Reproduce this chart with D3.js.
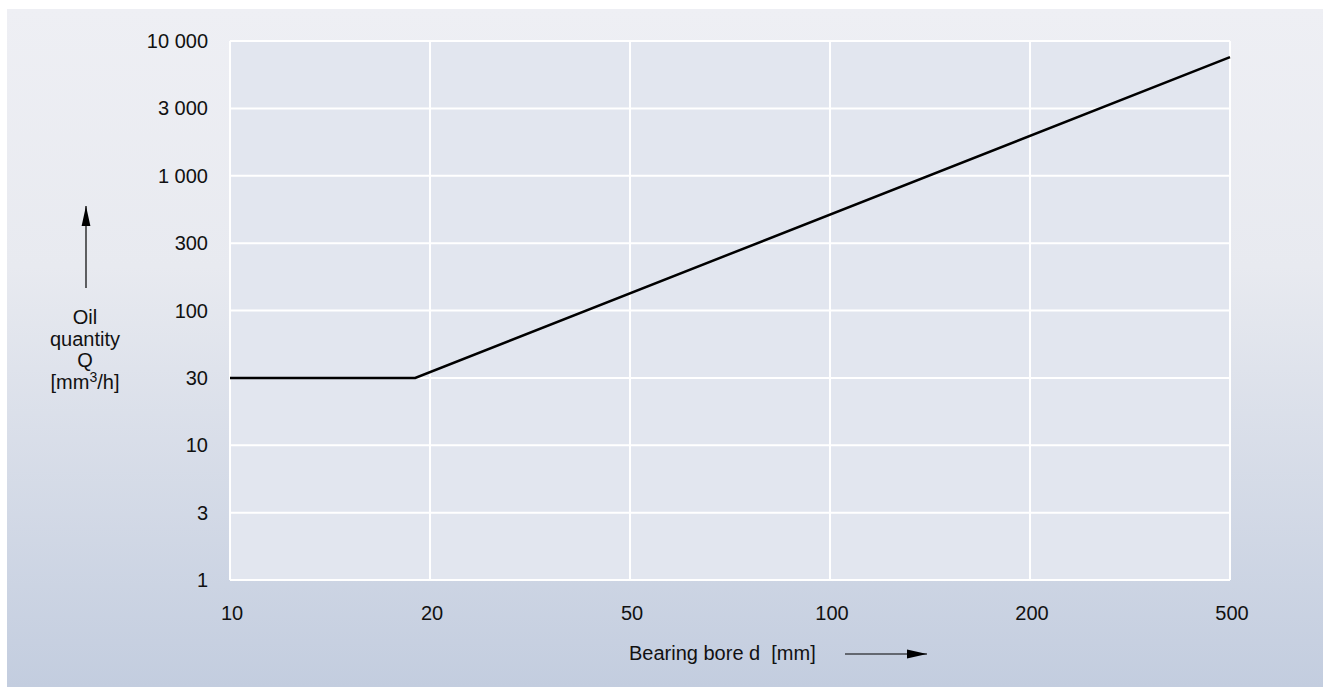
<!DOCTYPE html>
<html>
<head>
<meta charset="utf-8">
<script src="https://cdn.jsdelivr.net/npm/d3@7"></script>
<style>
  body { margin: 0; background: #fff; }
  text { font-family: "Liberation Sans", Arial, sans-serif; fill: #111; }
</style>
</head>
<body>
<div id="chart"></div>
<script>
// tick values (axes are drawn with evenly spaced decades)
const xTicks = [10, 20, 50, 100, 200, 500];
const yTicks = [1, 3, 10, 30, 100, 300, 1000, 3000, 10000];

// oil quantity curve
const boreValues = [10, 19, 500];
const oilValues = [30, 30, 7500];

const W = 1328, H = 687;
const plot = { left: 230, right: 1230, top: 41, bottom: 580 };
const fs = 20;

const svg = d3.select("#chart").append("svg")
    .attr("width", W)
    .attr("height", H);

const defs = svg.append("defs");
const grad = defs.append("linearGradient")
    .attr("id", "bg")
    .attr("x1", 0).attr("y1", 0).attr("x2", 0).attr("y2", 1);
grad.append("stop").attr("offset", "0%").attr("stop-color", "#eeeff4");
grad.append("stop").attr("offset", "38%").attr("stop-color", "#e8eaf0");
grad.append("stop").attr("offset", "100%").attr("stop-color", "#c3cddf");

svg.append("rect")
    .attr("x", 7).attr("y", 9)
    .attr("width", 1316).attr("height", 678)
    .attr("fill", "url(#bg)");

// piecewise scales: log inside each step, equal spacing between ticks
const x = d3.scaleLinear()
    .domain(xTicks.map(Math.log10))
    .range(xTicks.map((d, i) => plot.left + i * (plot.right - plot.left) / (xTicks.length - 1)));
const y = d3.scaleLinear()
    .domain(yTicks.map(Math.log10))
    .range(yTicks.map((d, i) => plot.bottom - i * (plot.bottom - plot.top) / (yTicks.length - 1)));

svg.append("rect")
    .attr("x", plot.left).attr("y", plot.top)
    .attr("width", plot.right - plot.left)
    .attr("height", plot.bottom - plot.top)
    .attr("fill", "#e2e6ef");

// grid
svg.append("g").selectAll("line")
    .data(xTicks)
    .enter().append("line")
    .attr("x1", d => x(Math.log10(d))).attr("x2", d => x(Math.log10(d)))
    .attr("y1", plot.top).attr("y2", plot.bottom)
    .attr("stroke", "#fff").attr("stroke-width", 2);

svg.append("g").selectAll("line")
    .data(yTicks)
    .enter().append("line")
    .attr("x1", plot.left).attr("x2", plot.right)
    .attr("y1", d => y(Math.log10(d))).attr("y2", d => y(Math.log10(d)))
    .attr("stroke", "#fff").attr("stroke-width", 2);

const fmt = d => d >= 1000 ? d3.format(",")(d).replace(/,/g, " ") : String(d);

// tick labels
svg.append("g").selectAll("text")
    .data(yTicks)
    .enter().append("text")
    .attr("x", 208)
    .attr("y", d => y(Math.log10(d)) + 7)
    .attr("text-anchor", "end")
    .attr("font-size", fs)
    .text(fmt);

svg.append("g").selectAll("text")
    .data(xTicks)
    .enter().append("text")
    .attr("x", d => x(Math.log10(d)) + 2)
    .attr("y", 620)
    .attr("text-anchor", "middle")
    .attr("font-size", fs)
    .text(fmt);

// curve
const pts = boreValues.map((d, i) => ({ d: d, q: oilValues[i] }));
const line = d3.line()
    .x(p => x(Math.log10(p.d)))
    .y(p => y(Math.log10(p.q)));

svg.append("path")
    .datum(pts)
    .attr("fill", "none")
    .attr("stroke", "#000")
    .attr("stroke-width", 2.5)
    .attr("d", line);

// axis titles
defs.append("marker")
    .attr("id", "arrow")
    .attr("viewBox", "0 0 20 10")
    .attr("refX", 20).attr("refY", 5)
    .attr("markerWidth", 20).attr("markerHeight", 10)
    .attr("markerUnits", "userSpaceOnUse")
    .attr("orient", "auto")
    .append("path")
    .attr("d", "M0,0.6 L20,5 L0,9.4 Z")
    .attr("fill", "#000");

const ytitle = svg.append("text")
    .attr("text-anchor", "middle")
    .attr("font-size", fs);
ytitle.append("tspan").attr("x", 85).attr("y", 324).text("Oil");
ytitle.append("tspan").attr("x", 85).attr("y", 346).text("quantity");
ytitle.append("tspan").attr("x", 85).attr("y", 367).text("Q");
const unit = ytitle.append("tspan").attr("x", 85).attr("y", 389);
unit.append("tspan").text("[mm");
unit.append("tspan").attr("font-size", 14).attr("dy", -7).text("3");
unit.append("tspan").attr("dy", 7).text("/h]");

svg.append("line")
    .attr("x1", 86).attr("y1", 288)
    .attr("x2", 86).attr("y2", 206)
    .attr("stroke", "#000").attr("stroke-width", 1.2)
    .attr("marker-end", "url(#arrow)");

svg.append("text")
    .attr("x", 629).attr("y", 660)
    .attr("font-size", fs)
    .attr("xml:space", "preserve")
    .style("white-space", "pre")
    .text("Bearing bore d  [mm]");

svg.append("line")
    .attr("x1", 845).attr("y1", 654)
    .attr("x2", 927).attr("y2", 654)
    .attr("stroke", "#000").attr("stroke-width", 1.2)
    .attr("marker-end", "url(#arrow)");
</script>
</body>
</html>
